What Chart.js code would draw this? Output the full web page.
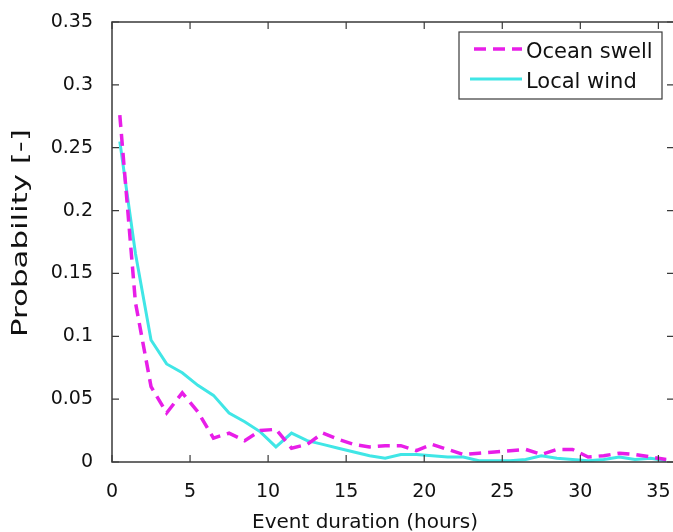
<!DOCTYPE html>
<html>
<head>
<meta charset="utf-8">
<script src="https://cdn.jsdelivr.net/npm/chart.js@4/dist/chart.umd.min.js"></script>
<style>
  html, body { margin: 0; padding: 0; background: #fff; overflow: hidden; width: 673px; height: 532px; }
  #wrap { position: absolute; left: 0; top: 0; width: 676px; height: 532px; }
</style>
</head>
<body>
<div id="wrap"><canvas id="c" width="676" height="532"></canvas></div>
<script>
// ---- data ----
const hours = [0.5, 1.5, 2.5, 3.5, 4.5, 5.5, 6.5, 7.5, 8.5, 9.5, 10.5, 11.5, 12.5, 13.5, 14.5, 15.5, 16.5, 17.5,
               18.5, 19.5, 20.5, 21.5, 22.5, 23.5, 24.5, 25.5, 26.5, 27.5, 28.5, 29.5, 30.5, 31.5, 32.5, 33.5, 34.5, 35.5];
const oceanSwell = [0.276, 0.127, 0.060, 0.039, 0.055, 0.040, 0.019, 0.023, 0.017, 0.025, 0.026, 0.011, 0.014, 0.023, 0.018, 0.014, 0.012, 0.013,
                    0.013, 0.009, 0.014, 0.010, 0.006, 0.007, 0.008, 0.009, 0.010, 0.006, 0.010, 0.010, 0.004, 0.005, 0.007, 0.006, 0.004, 0.002];
const localWind = [0.255, 0.166, 0.097, 0.078, 0.071, 0.061, 0.053, 0.039, 0.032, 0.024, 0.012, 0.023, 0.017, 0.014, 0.011, 0.008, 0.005, 0.003,
                   0.006, 0.006, 0.005, 0.004, 0.004, 0.001, 0.001, 0.001, 0.002, 0.005, 0.003, 0.002, 0.001, 0.002, 0.004, 0.002, 0.003, 0.001];
const seriesNames = ['Ocean swell', 'Local wind'];
const xTicks = [0, 5, 10, 15, 20, 25, 30, 35];
const yTicks = [0, 0.05, 0.1, 0.15, 0.2, 0.25, 0.3, 0.35];
const xTitle = 'Event duration (hours)';
const yTitle = 'Probability [-]';

const FONT = "'DejaVu Sans', sans-serif";
const AXIS = '#3a3a3a';
const MAGENTA = '#e81ee8';
const CYAN = '#40e6e6';

const frame = {
  id: 'frame',
  afterDatasetsDraw(chart) {
    const { ctx, chartArea: a, scales: { x, y } } = chart;
    ctx.save();
    ctx.strokeStyle = AXIS;
    ctx.lineWidth = 1.5;
    ctx.strokeRect(a.left, a.top, a.right - a.left, a.bottom - a.top);
    ctx.lineWidth = 1.2;
    const tl = 7;
    ctx.beginPath();
    xTicks.forEach(v => {
      const px = x.getPixelForValue(v);
      ctx.moveTo(px, a.bottom); ctx.lineTo(px, a.bottom - tl);
      ctx.moveTo(px, a.top); ctx.lineTo(px, a.top + tl);
    });
    yTicks.forEach(v => {
      const py = y.getPixelForValue(v);
      ctx.moveTo(a.left, py); ctx.lineTo(a.left + tl, py);
      ctx.moveTo(a.right, py); ctx.lineTo(a.right - tl, py);
    });
    ctx.stroke();
    ctx.restore();
  },
  afterDraw(chart) {
    const { ctx } = chart;
    ctx.save();
    // x title
    ctx.fillStyle = '#111';
    ctx.font = "20px " + FONT;
    ctx.textAlign = 'center';
    ctx.textBaseline = 'alphabetic';
    ctx.fillText(xTitle, 365, 528);
    // y title (stretched along its length like the reference)
    ctx.font = "22px " + FONT;
    const natural = ctx.measureText(yTitle).width;
    ctx.translate(21, 233);
    ctx.rotate(-Math.PI / 2);
    ctx.scale(208 / natural, 1);
    ctx.textBaseline = 'middle';
    ctx.fillText(yTitle, 0, 0);
    ctx.restore();

    // legend
    ctx.save();
    const bx = 459, by = 32, bw = 203, bh = 67;
    ctx.fillStyle = '#fff';
    ctx.fillRect(bx, by, bw, bh);
    ctx.strokeStyle = AXIS;
    ctx.lineWidth = 1.2;
    ctx.strokeRect(bx, by, bw, bh);
    const ds = chart.data.datasets;
    const rows = [49, 79];
    ds.forEach((d, i) => {
      ctx.beginPath();
      ctx.strokeStyle = d.borderColor;
      ctx.lineWidth = d.borderWidth;
      ctx.setLineDash(d.borderDash || []);
      ctx.moveTo(i === 0 ? 474 : 470, rows[i]);
      ctx.lineTo(522, rows[i]);
      ctx.stroke();
      ctx.setLineDash([]);
      ctx.fillStyle = '#111';
      ctx.font = "21px " + FONT;
      ctx.textAlign = 'left';
      ctx.textBaseline = 'alphabetic';
      ctx.fillText(d.label, 526, rows[i] + 9);
    });
    ctx.restore();
  }
};

new Chart(document.getElementById('c'), {
  type: 'line',
  data: {
    datasets: [
      {
        label: seriesNames[0],
        data: hours.map((h, i) => ({ x: h, y: oceanSwell[i] })),
        borderColor: MAGENTA,
        borderWidth: 3.5,
        borderDash: [12, 7],
        pointRadius: 0,
        tension: 0,
        fill: false
      },
      {
        label: seriesNames[1],
        data: hours.map((h, i) => ({ x: h, y: localWind[i] })),
        borderColor: CYAN,
        borderWidth: 3,
        pointRadius: 0,
        tension: 0,
        fill: false
      }
    ]
  },
  options: {
    responsive: false,
    animation: false,
    events: [],
    layout: { padding: { left: 0, right: 2, top: 22, bottom: 0 } },
    plugins: { legend: { display: false }, tooltip: { enabled: false }, title: { display: false } },
    scales: {
      x: {
        type: 'linear',
        min: 0, max: 36,
        afterBuildTicks: s => { s.ticks = xTicks.map(v => ({ value: v })); },
        afterFit: s => { s.height = 70; s.paddingLeft = 0; s.paddingRight = 0; },
        grid: { display: false, drawTicks: false },
        border: { display: false },
        ticks: { color: '#111', font: { family: FONT, size: 19 }, padding: 19, maxRotation: 0 }
      },
      y: {
        type: 'linear',
        min: 0, max: 0.35,
        afterBuildTicks: s => { s.ticks = yTicks.map(v => ({ value: v })); },
        afterFit: s => { s.width = 112; s.paddingTop = 0; s.paddingBottom = 0; },
        grid: { display: false, drawTicks: false },
        border: { display: false },
        ticks: { color: '#111', font: { family: FONT, size: 19 }, padding: 19,
                 callback: v => String(+v.toFixed(2)) }
      }
    }
  },
  plugins: [frame]
});
</script>
</body>
</html>
